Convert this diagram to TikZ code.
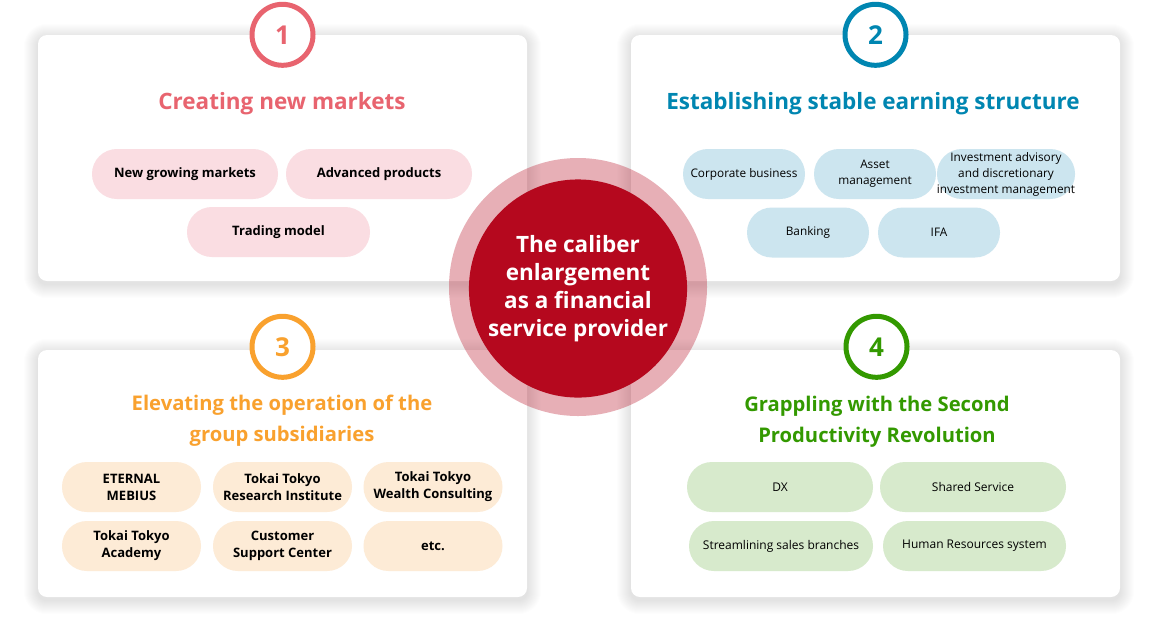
\documentclass[tikz,border=0pt]{standalone}
\usepackage{fontspec}
\setmainfont{Open Sans}
\usetikzlibrary{positioning}

\definecolor{mktred}{HTML}{E8646F}
\definecolor{earnblue}{HTML}{0086B1}
\definecolor{grporange}{HTML}{F9A12E}
\definecolor{prodgreen}{HTML}{339900}
\definecolor{corered}{HTML}{B5081E}
\definecolor{pinkpill}{HTML}{FADDE2}
\definecolor{bluepill}{HTML}{CCE5EF}
\definecolor{orangepill}{HTML}{FDEBD6}
\definecolor{greenpill}{HTML}{D7EACC}

\pgfdeclarelayer{shade}
\pgfsetlayers{shade,main}

\tikzset{
  card/.style={fill=white, rounded corners=9pt, minimum width=489pt, minimum height=246pt},
  numring/.style={circle, draw=#1, line width=5pt, fill=white, minimum size=61pt, inner sep=0pt,
    text=#1, font=\fontsize{26}{26}\selectfont\bfseries},
  headline/.style={text=#1, align=center, font=\fontsize{22.5}{31}\selectfont\bfseries},
  smallheadline/.style={text=#1, align=center, font=\fontsize{20.2}{31}\selectfont\bfseries},
  pill/.style={fill=#1, rounded corners=24.9pt, minimum height=50pt, inner sep=0pt, align=center},
  boldpill/.style={pill=#1, font=\fontsize{13}{17}\selectfont\bfseries},
  thinpill/.style={pill=#1, font=\fontsize{11.8}{16}\selectfont},
}

\begin{document}
\begin{tikzpicture}[x=1pt,y=-1pt]
  \useasboundingbox (0,0) rectangle (1158,638);

  % four cards
  \node[card] (card1) at (282.5,158) {};
  \node[card] (card2) at (875.5,158) {};
  \node[card, minimum height=247pt] (card3) at (282.5,473.5) {};
  \node[card, minimum height=247pt] (card4) at (875.5,473.5) {};

  % soft shadow behind the cards
  \begin{pgfonlayer}{shade}
    \fill[white] (0,0) rectangle (1158,638);
    \foreach \c in {card1,card2,card3,card4}
      \foreach \i in {1,...,14}
        \fill[black, opacity=0.007, rounded corners=9pt+\i pt]
          ([shift={(-\i,-\i+3)}]\c.north west) rectangle ([shift={(\i,\i+3)}]\c.south east);
  \end{pgfonlayer}

  \node[numring=mktred] (n1) at (card1.north) {1};
  \node[numring=earnblue] (n2) at (card2.north) {2};
  \node[numring=grporange] (n3) at ([yshift=3pt]card3.north) {3};
  \node[numring=prodgreen] (n4) at ([xshift=1pt,yshift=3pt]card4.north) {4};

  % 1
  \node[headline=mktred] (t1) at (282,104) {Creating new markets};
  \node[boldpill=pinkpill, minimum width=186pt] (p11) at (185,174) {New growing markets};
  \node[boldpill=pinkpill, minimum width=186pt] (p12) at (379,174) {Advanced products};
  \node[boldpill=pinkpill, minimum width=183pt] (p13) at (278.5,232) {Trading model};

  % 2
  \node[headline=earnblue] (t2) at (873,104) {Establishing stable earning structure};
  \node[thinpill=bluepill, minimum width=122pt] (p21) at (744,174) {Corporate business};
  \node[thinpill=bluepill, minimum width=122pt] (p22) at (875,174) {Asset\\management};
  \node[thinpill=bluepill, minimum width=122pt] (p23) at (1006,174) {Investment advisory\\and discretionary\\investment management};
  \node[thinpill=bluepill, minimum width=122pt] (p24) at (808,232.5) {Banking};
  \node[thinpill=bluepill, minimum width=122pt] (p25) at (939,232.5) {IFA};

  % 3
  \node[smallheadline=grporange] (t3) at (282,420.5) {Elevating the operation of the\\group subsidiaries};
  \node[boldpill=orangepill, minimum width=139pt] (p31) at (131.5,487) {ETERNAL\\MEBIUS};
  \node[boldpill=orangepill, minimum width=139pt] (p32) at (282.5,487) {Tokai Tokyo\\Research Institute};
  \node[boldpill=orangepill, minimum width=139pt] (p33) at (433,487) {Tokai Tokyo\\Wealth Consulting};
  \node[boldpill=orangepill, minimum width=139pt] (p34) at (131.5,546) {Tokai Tokyo\\Academy};
  \node[boldpill=orangepill, minimum width=139pt] (p35) at (282.5,546) {Customer\\Support Center};
  \node[boldpill=orangepill, minimum width=139pt] (p36) at (433,546) {etc.};

  % 4
  \node[smallheadline=prodgreen] (t4) at (877,421.5) {Grappling with the Second\\Productivity Revolution};
  \node[thinpill=greenpill, minimum width=186pt, font=\fontsize{12}{16}\selectfont] (p41) at (780,487) {DX};
  \node[thinpill=greenpill, minimum width=186pt, font=\fontsize{12}{16}\selectfont] (p42) at (973,487) {Shared Service};
  \node[thinpill=greenpill, minimum width=184pt, font=\fontsize{12}{16}\selectfont] (p43) at (781,546) {Streamlining sales branches};
  \node[thinpill=greenpill, minimum width=183pt, font=\fontsize{12}{16}\selectfont] (p44) at (974.5,546) {Human Resources system};

  % centre
  \node[circle, fill=corered, fill opacity=.32, minimum size=258pt] (halo) at (578,287) {};
  \node[circle, fill=corered, fill opacity=.5, minimum size=213pt] (ring) at (halo) {};
  \node[circle, fill=corered, minimum size=169pt, text=white, align=center,
    font=\fontsize{22.5}{28}\selectfont\bfseries] (core) at (578,288.5) {The caliber\\enlargement\\as a financial\\service provider};
\end{tikzpicture}
\end{document}
